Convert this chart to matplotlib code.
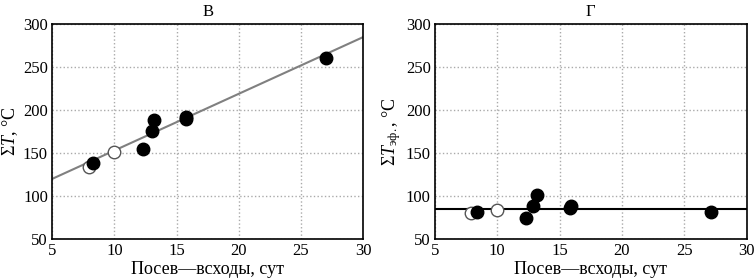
import numpy as np
import matplotlib.pyplot as plt

plt.rcParams['font.family'] = ['Liberation Serif', 'DejaVu Serif']
plt.rcParams['mathtext.fontset'] = 'custom'
plt.rcParams['mathtext.rm'] = 'Liberation Serif'
plt.rcParams['mathtext.it'] = 'Liberation Serif:italic'

# panel B: sum of temperatures
b_open_x = [8.0, 10.0]
b_open_y = [134, 151]
b_fill_x = [8.3, 12.3, 13.0, 13.2, 15.8, 15.8, 27.0]
b_fill_y = [139, 155, 176, 188, 190, 192, 261]
b_line_x = [5, 30]
b_line_y = [120, 285]

# panel G: sum of effective temperatures
g_open_x = [7.9, 10.0]
g_open_y = [80, 84]
g_fill_x = [8.4, 12.3, 12.9, 13.2, 15.8, 15.9, 27.1]
g_fill_y = [82, 74, 88, 101, 86, 89, 82]
g_level = 85

fig = plt.figure(figsize=(7.55, 2.78), dpi=100)
ax1 = fig.add_axes([0.069, 0.140, 0.412, 0.773])
ax2 = fig.add_axes([0.576, 0.140, 0.413, 0.773])

ms = 9
ax1.plot(b_line_x, b_line_y, color='#808080', lw=1.5, zorder=2)
ax1.plot(b_open_x, b_open_y, 'o', ms=ms, mfc='white', mec='#555555', mew=1, zorder=3)
ax1.plot(b_fill_x, b_fill_y, 'o', ms=ms, mfc='black', mec='black', zorder=4)
ax1.set_ylabel(r'$\Sigma\mathit{T}$, °C', fontsize=13, labelpad=2)
ax1.set_title('В', fontsize=12, pad=6)

ax2.axhline(g_level, color='black', lw=1.5, zorder=2)
ax2.plot(g_open_x, g_open_y, 'o', ms=ms, mfc='white', mec='#555555', mew=1, zorder=3)
ax2.plot(g_fill_x, g_fill_y, 'o', ms=ms, mfc='black', mec='black', zorder=4)
ax2.set_ylabel(r'$\Sigma\mathit{T}_{\mathrm{эф.}}$, °C', fontsize=13, labelpad=2)
ax2.set_title('Г', fontsize=12, pad=6)

for ax in (ax1, ax2):
    ax.set_xlim(5, 30)
    ax.set_ylim(50, 300)
    ax.set_xticks([5, 10, 15, 20, 25, 30])
    ax.set_yticks([50, 100, 150, 200, 250, 300])
    ax.grid(True, color='#aaaaaa', ls=':', lw=1)
    ax.set_axisbelow(True)
    ax.tick_params(length=0, labelsize=12, pad=3)
    ax.set_xlabel('Посев—всходы, сут', fontsize=13, labelpad=1)
    for s in ax.spines.values():
        s.set_linewidth(1.2)

fig.savefig('out.png', dpi=100)
